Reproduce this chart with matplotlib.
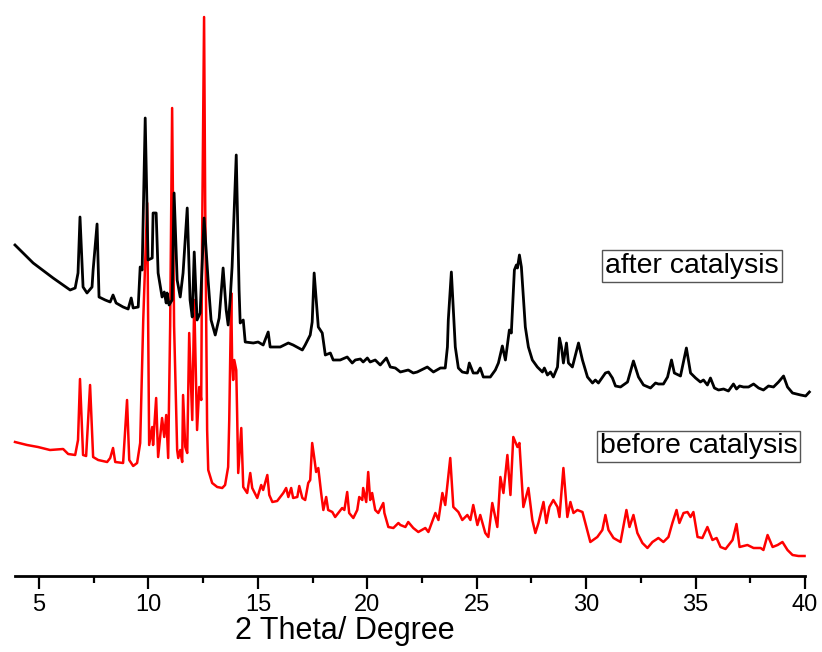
import matplotlib
matplotlib.use("Agg")
import matplotlib.pyplot as plt
from matplotlib.ticker import MultipleLocator

plt.rcParams['font.family'] = ['Liberation Sans', 'DejaVu Sans']

# after catalysis (black), 2theta / intensity (a.u.)
after_x = [3.90, 4.73, 5.64, 6.42, 6.65, 6.78, 6.87, 7.01, 7.19, 7.42, 7.47, 7.65, 7.74, 8.02,
           8.25, 8.38, 8.52, 8.84, 9.07, 9.21, 9.30, 9.53, 9.62, 9.71, 9.85, 9.98, 10.17, 10.21,
           10.35, 10.44, 10.62, 10.72, 10.81, 10.85, 10.94, 11.08, 11.17, 11.31, 11.45, 11.58,
           11.77, 11.90, 12.00, 12.09, 12.22, 12.36, 12.54, 12.73, 12.86, 13.05, 13.23, 13.41,
           13.55, 13.64, 13.73, 13.82, 14.01, 14.14, 14.19, 14.33, 14.42, 14.79, 15.01, 15.24,
           15.47, 15.56, 16.02, 16.39, 16.61, 17.03, 17.16, 17.39, 17.48, 17.57, 17.76, 17.94,
           18.08, 18.31, 18.44, 18.76, 19.08, 19.31, 19.45, 19.68, 19.81, 20.00, 20.13, 20.36,
           20.59, 20.87, 21.05, 21.28, 21.51, 21.87, 22.10, 22.28, 22.74, 23.02, 23.34, 23.56,
           23.66, 23.70, 23.84, 24.02, 24.16, 24.34, 24.57, 24.66, 24.84, 25.03, 25.16, 25.30,
           25.62, 25.85, 25.99, 26.17, 26.31, 26.49, 26.58, 26.72, 26.81, 26.86, 26.95, 27.04,
           27.13, 27.22, 27.36, 27.54, 27.77, 28.00, 28.09, 28.23, 28.37, 28.50, 28.69, 28.78,
           28.87, 28.96, 29.10, 29.19, 29.37, 29.65, 29.83, 30.06, 30.29, 30.42, 30.56, 30.88,
           31.02, 31.20, 31.34, 31.57, 31.89, 32.16, 32.39, 32.62, 32.94, 33.17, 33.30, 33.53,
           33.72, 33.90, 34.03, 34.31, 34.58, 34.77, 35.00, 35.22, 35.36, 35.54, 35.68, 35.86,
           36.05, 36.28, 36.50, 36.73, 36.87, 37.01, 37.19, 37.42, 37.65, 37.88, 38.10, 38.33,
           38.56, 38.79, 39.02, 39.20, 39.43, 39.80, 40.03, 40.20]
after_y = [331, 313, 298, 286, 288, 303, 359, 289, 283, 289, 306, 352, 279, 276,
           274, 281, 273, 269, 267, 278, 268, 269, 309, 306, 458, 316, 318, 363,
           363, 303, 279, 284, 273, 283, 271, 276, 383, 296, 279, 303,
           368, 276, 259, 324, 256, 263, 358, 294, 256, 241, 258, 308,
           266, 251, 276, 309, 421, 286, 253, 256, 234, 233, 234, 231,
           244, 229, 229, 233, 231, 226, 231, 241, 254, 303, 249, 243,
           221, 223, 216, 216, 219, 213, 216, 217, 214, 218, 214, 216,
           211, 218, 209, 208, 204, 206, 203, 204, 209, 204, 208, 208,
           229, 256, 304, 229, 208, 204, 203, 213, 203, 203, 208, 199,
           199, 206, 213, 230, 216, 246, 243, 306, 311, 308, 321, 309,
           279, 249, 229, 216, 209, 204, 208, 201, 204, 199, 209, 238,
           229, 213, 233, 213, 209, 233, 216, 199, 193, 196, 193, 203,
           204, 198, 190, 189, 194, 215, 199, 191, 188, 193, 192, 192,
           199, 216, 203, 200, 228, 203, 198, 194, 196, 191, 198, 188,
           186, 187, 185, 192, 187, 190, 189, 189, 192, 188, 186, 190,
           189, 194, 200, 189, 183, 181, 180, 184]

# before catalysis (red)
before_x = [3.90, 4.45, 4.95, 5.50, 6.10, 6.33, 6.65, 6.78, 6.87, 7.01, 7.15, 7.33, 7.47, 7.70,
            8.11, 8.25, 8.38, 8.48, 8.84, 9.02, 9.12, 9.30, 9.48, 9.62, 9.76, 9.94, 10.03,
            10.17, 10.21, 10.35, 10.44, 10.62, 10.72, 10.81, 10.90, 10.99, 11.08, 11.17, 11.31,
            11.36, 11.45, 11.54, 11.58, 11.68, 11.77, 11.86, 12.00, 12.09, 12.22, 12.32, 12.41,
            12.45, 12.54, 12.59, 12.68, 12.73, 12.91, 13.14, 13.37, 13.50, 13.64, 13.69, 13.78,
            13.82, 13.87, 13.92, 14.01, 14.05, 14.10, 14.24, 14.33, 14.51, 14.65, 14.74, 14.97,
            15.15, 15.24, 15.43, 15.52, 15.66, 15.88, 16.02, 16.16, 16.29, 16.39, 16.52, 16.61,
            16.80, 16.89, 17.03, 17.16, 17.30, 17.39, 17.48, 17.57, 17.66, 17.76, 17.89, 17.99,
            18.12, 18.21, 18.40, 18.53, 18.67, 18.85, 18.95, 19.08, 19.17, 19.36, 19.54, 19.63,
            19.77, 19.81, 19.95, 20.04, 20.13, 20.22, 20.36, 20.50, 20.73, 20.78, 20.96, 21.19,
            21.42, 21.51, 21.74, 21.87, 22.10, 22.33, 22.65, 22.79, 23.11, 23.25, 23.43, 23.56,
            23.79, 23.93, 24.16, 24.34, 24.57, 24.71, 24.84, 25.03, 25.16, 25.39, 25.53, 25.71,
            25.94, 26.08, 26.22, 26.40, 26.54, 26.67, 26.86, 26.95, 27.13, 27.36, 27.54, 27.68,
            27.82, 28.05, 28.18, 28.32, 28.50, 28.69, 28.78, 28.96, 29.14, 29.28, 29.42, 29.60,
            29.83, 30.01, 30.19, 30.51, 30.74, 30.88, 31.02, 31.25, 31.57, 31.84, 31.98, 32.16,
            32.34, 32.57, 32.80, 33.03, 33.30, 33.53, 33.76, 33.94, 34.13, 34.26, 34.45, 34.63,
            34.77, 34.90, 35.09, 35.31, 35.54, 35.77, 35.96, 36.14, 36.37, 36.69, 36.87, 37.01,
            37.37, 37.65, 37.97, 38.10, 38.29, 38.52, 38.75, 38.97, 39.20, 39.43, 39.70, 39.98]
before_y = [134, 131, 129, 126, 127, 122, 121, 136, 197, 121, 120, 191, 119, 116,
            114, 118, 128, 114, 113, 176, 116, 110, 113, 133, 256, 373, 131,
            149, 131, 178, 119, 158, 139, 161, 118, 250, 468, 250, 126,
            118, 126, 114, 181, 129, 123, 243, 156, 276, 146, 189, 176,
            336, 559, 376, 146, 106, 93, 89, 88, 91, 109, 156, 283,
            216, 196, 216, 206, 163, 103, 148, 89, 83, 103, 88, 78,
            91, 86, 101, 81, 74, 75, 79, 83, 88, 79, 88, 78,
            79, 90, 78, 76, 93, 96, 133, 119, 104, 108, 83, 66,
            79, 66, 64, 59, 63, 68, 66, 84, 63, 58, 66, 79,
            76, 88, 74, 104, 76, 83, 66, 63, 73, 63, 49, 48,
            53, 51, 49, 54, 48, 44, 48, 44, 63, 56, 83, 71,
            118, 69, 64, 56, 61, 56, 71, 51, 61, 43, 39, 73,
            49, 99, 83, 121, 81, 139, 129, 133, 69, 88, 56, 43,
            53, 74, 53, 69, 76, 69, 59, 108, 59, 74, 63, 66,
            64, 49, 34, 39, 46, 61, 46, 38, 34, 66, 49, 61,
            43, 33, 28, 34, 38, 34, 39, 53, 66, 53, 63, 64,
            59, 64, 39, 38, 49, 36, 38, 29, 27, 36, 52, 29,
            31, 28, 28, 26, 41, 29, 31, 34, 26, 21, 20, 20]

fig = plt.figure(figsize=(8.22, 6.52), dpi=100)
ax = fig.add_axes([15/822, 76/652, 790/822, 576/652])

ax.plot(before_x, before_y, color='#ff0000', lw=1.8, clip_on=False)
ax.plot(after_x, after_y, color='black', lw=2.0, clip_on=False)

ax.set_xlim(3.9, 40)
ax.set_ylim(0, 576)

for s in ['top', 'right', 'left']:
    ax.spines[s].set_visible(False)
ax.spines['bottom'].set_linewidth(2)
ax.set_yticks([])

ax.xaxis.set_major_locator(MultipleLocator(5))
ax.xaxis.set_minor_locator(MultipleLocator(2.5))
ax.tick_params(axis='x', which='major', direction='out', length=9, width=1.6,
               labelsize=17, pad=4)
ax.tick_params(axis='x', which='minor', direction='out', length=5, width=1.6)

ax.set_xlabel('2 Theta/ Degree', fontsize=22)
ax.xaxis.set_label_coords(0.418, -0.07)

box = dict(boxstyle='square,pad=0.1', fc='white', ec='#555555', lw=1)
ax.text(0.747, 0.538, 'after catalysis', transform=ax.transAxes, fontsize=20.5,
        ha='left', va='center', bbox=box)
ax.text(0.740, 0.225, 'before catalysis', transform=ax.transAxes, fontsize=20.5,
        ha='left', va='center', bbox=box)

plt.savefig('out.png', dpi=100)
